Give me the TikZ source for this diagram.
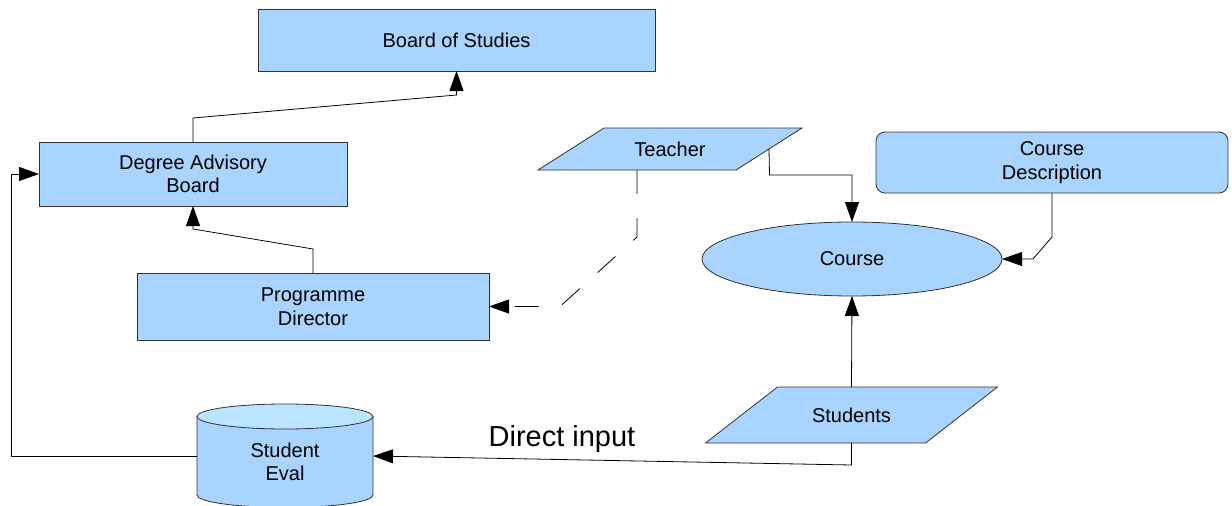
\documentclass[tikz,border=0pt]{standalone}
\usepackage{fontspec}
\setmainfont{Liberation Sans}
\usetikzlibrary{arrows.meta,shapes.geometric,backgrounds}
\definecolor{boxfill}{RGB}{168,212,255}
\definecolor{capfill}{RGB}{186,228,255}
\definecolor{edge}{RGB}{50,50,50}
\tikzset{
  base/.style={inner sep=0pt, outer sep=0pt, align=center, font=\fontsize{20}{23.5}\selectfont},
  box/.style={base, rectangle, draw=edge, line width=0.8pt, fill=boxfill},
  rbox/.style={box, rounded corners=9pt},
  oval/.style={base, ellipse, draw=edge, line width=0.8pt, fill=boxfill},
  plain/.style={base, rectangle},
  shapeline/.style={draw=edge, line width=0.8pt, fill=boxfill},
  conn/.style={draw=black, line width=0.8pt, -{Triangle[length=20pt,width=14pt]}},
  dashconn/.style={conn, dash pattern=on 24pt off 24pt},
}
\begin{document}
\begin{tikzpicture}[x=1pt,y=-1pt]
\useasboundingbox (0,0) rectangle (1232,506);

% rectangles
\node[box, minimum width=397pt, minimum height=62pt] (board) at (456.5,40) {Board of Studies};
\node[box, minimum width=308pt, minimum height=64pt] (dab) at (193,174) {Degree Advisory\\Board};
\node[box, minimum width=352pt, minimum height=67pt] (pd) at (313,306.5) {Programme\\Director};
\node[rbox, minimum width=352pt, minimum height=61pt] (cd) at (1052,162.5) {Course\\Description};
\node[oval, minimum width=300pt, minimum height=74pt] (course) at (852,259) {Course};

% parallelograms
\node[plain, minimum width=198pt, minimum height=42pt] (teacher) at (670,149) {Teacher};
\node[plain, minimum width=220pt, minimum height=56pt] (students) at (851.5,415) {Students};
% cylinder
\node[plain, minimum width=176pt, minimum height=103pt] (eval) at (285,456) {};
\node[plain] (evaltxt) at (285,462) {Student\\Eval};

\begin{pgfonlayer}{background}
  \draw[shapeline] ([xshift=-33pt]teacher.south west) -- ([xshift=-33pt]teacher.south east)
     -- ([xshift=33pt]teacher.north east) -- ([xshift=33pt]teacher.north west) -- cycle;
  \draw[shapeline] ([xshift=-36pt]students.south west) -- ([xshift=-36pt]students.south east)
     -- ([xshift=36pt]students.north east) -- ([xshift=36pt]students.north west) -- cycle;
  \draw[shapeline] (197,416.5) -- (197,495)
     arc[start angle=180, end angle=360, x radius=88pt, y radius=12.5pt]
     -- (373,416.5) -- cycle;
  \draw[shapeline, fill=capfill] (285,416.5) ellipse [x radius=88pt, y radius=12.5pt];
\end{pgfonlayer}

% connectors
\draw[conn] (dab.north) -- (193,118) -- (456.5,95) -- (board.south);
\draw[conn] (pd.north) -- (313,249) -- (193,229) -- (dab.south);
\draw[conn] (eval.west) -- (11,456) |- (dab.west);
\draw[dashconn] ([xshift=-33pt]teacher.south) -- (637,237) -- (560,306.5) -- (pd.east);
\draw[conn] (teacher.east) -- (769.5,175) -| (course.north);
\draw[conn] (cd.south) -- (1052,237) -- (1033,259) -- (course.east);
\draw[conn] (students.north) -- (course.south);
\draw[conn] (students.south) -- (851.5,465) -- (eval.east);

\node[base, font=\fontsize{29}{32}\selectfont, anchor=base] (direct) at (562,446) {Direct input};
\end{tikzpicture}
\end{document}
